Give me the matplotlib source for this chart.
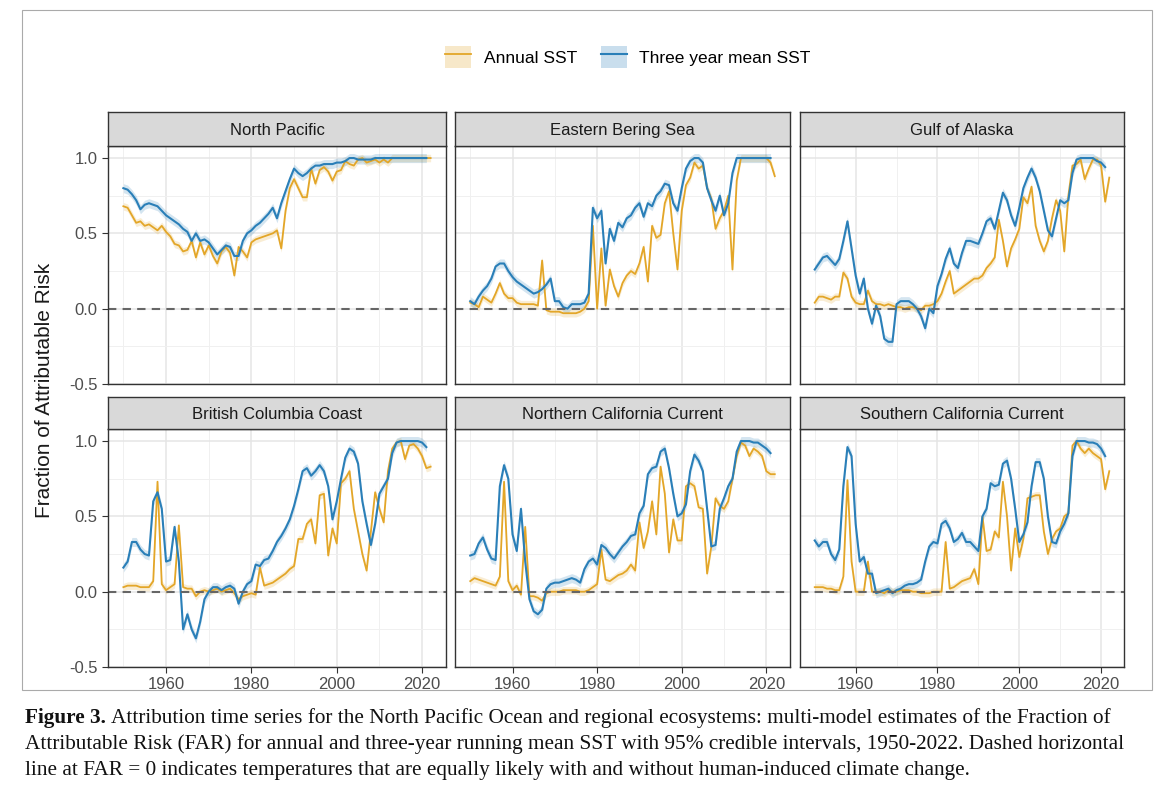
import matplotlib
matplotlib.use("Agg")
import matplotlib.pyplot as plt
from matplotlib.patches import Rectangle
from matplotlib.lines import Line2D
from matplotlib.patches import Patch
import numpy as np

plt.rcParams["font.family"] = ["Liberation Sans", "DejaVu Sans"]

years = np.arange(1950, 2023)

# annual SST FAR, 1950-2022 (one row per decade)
np_annual = [.68, .67, .62, .57, .58, .55, .56, .54, .52, .55,
             .51, .48, .43, .42, .38, .39, .45, .34, .44, .36,
             .42, .35, .30, .38, .41, .37, .22, .41, .38, .34,
             .44, .46, .47, .48, .49, .50, .52, .40, .65, .80,
             .86, .80, .74, .74, .93, .83, .92, .94, .91, .85,
             .91, .92, .98, .96, .95, .99, 1.0, .97, .98, .99,
             .97, .99, .97, 1, 1, 1, 1, 1, 1, 1,
             1, 1, 1]
ebs_annual = [.04, .03, .01, .08, .06, .04, .10, .17, .10, .07,
              .07, .04, .03, .03, .03, .03, .02, .32, -.01, -.02,
              -.02, -.02, -.03, -.03, -.03, -.03, -.02, .00, .05, .55,
              .00, .40, .02, .26, .15, .08, .17, .22, .25, .23,
              .30, .41, .18, .55, .47, .49, .70, .78, .50, .26,
              .65, .82, .87, .97, .93, .95, .80, .73, .53, .60,
              .65, .75, .26, .85, 1, 1, 1, 1, 1, 1,
              1, .97, .88]
goa_annual = [.04, .08, .08, .07, .06, .08, .08, .24, .20, .08,
              .04, .03, .03, .12, .05, .03, .03, .02, .03, .02,
              .01, .01, .00, .01, .01, .00, -.01, .02, .02, .03,
              .05, .10, .18, .25, .10, .12, .14, .16, .18, .20,
              .20, .22, .27, .30, .34, .59, .45, .28, .40, .46,
              .53, .74, .70, .81, .55, .45, .38, .45, .60, .72,
              .65, .38, .75, .95, .96, .99, .86, .93, .99, .99,
              .95, .71, .87]
bcc_annual = [.03, .04, .04, .04, .03, .03, .03, .07, .73, .05,
              .01, .03, .05, .44, .03, .02, .02, -.03, .00, .01,
              .00, .01, .02, .00, .01, .02, -.01, -.05, -.03, -.02,
              -.01, -.02, .16, .04, .05, .06, .08, .10, .12, .15,
              .17, .35, .35, .45, .48, .32, .64, .65, .24, .42,
              .32, .72, .75, .80, .55, .40, .25, .14, .40, .66,
              .55, .46, .80, .95, .99, 1.0, .88, .97, .98, .95,
              .90, .82, .83]
ncc_annual = [.07, .09, .08, .07, .06, .05, .04, .10, .73, .07,
              .01, .04, -.02, .43, -.03, -.03, -.04, -.06, -.01, .00,
              .00, .00, .01, .01, .01, .01, .00, .00, .01, .03,
              .05, .28, .08, .07, .09, .11, .12, .14, .18, .14,
              .46, .29, .40, .60, .38, .83, .65, .26, .48, .34,
              .34, .70, .72, .70, .56, .55, .12, .30, .62, .57,
              .55, .60, .75, .90, .99, .97, .90, .95, .93, .90,
              .80, .78, .78]
scc_annual = [.03, .03, .03, .02, .02, .01, .01, .10, .74, .20,
              .00, .00, .00, .20, .00, .00, .00, -.01, .01, .00,
              .00, .01, .01, .01, .00, .00, -.01, -.01, -.01, .00,
              .00, .00, .33, .02, .03, .05, .07, .08, .09, .15,
              .05, .50, .27, .28, .40, .36, .73, .50, .14, .42,
              .23, .35, .62, .63, .64, .64, .40, .25, .35, .40,
              .42, .50, .52, .97, 1.0, .95, .92, .95, .92, .90,
              .88, .68, .80]

# three year mean SST FAR, 1950-2021
np_3yr = [.80, .79, .76, .72, .66, .69, .70, .69, .68, .65,
          .62, .60, .58, .56, .53, .51, .45, .50, .45, .46,
          .44, .40, .36, .39, .42, .41, .35, .35, .45, .50,
          .52, .55, .57, .60, .63, .67, .60, .70, .78, .86,
          .93, .90, .88, .90, .93, .95, .95, .96, .96, .96,
          .97, .97, .98, 1.0, 1.0, .99, .99, .99, .99, 1.0,
          1, 1, 1, 1, 1, 1, 1, 1, 1, 1,
          1, 1]
ebs_3yr = [.05, .03, .08, .12, .15, .20, .28, .30, .30, .25,
           .21, .18, .16, .14, .12, .10, .11, .13, .16, .20,
           .05, .05, .01, .00, .03, .03, .03, .04, .10, .67,
           .60, .65, .30, .53, .45, .57, .54, .60, .62, .67,
           .70, .61, .70, .68, .75, .78, .83, .82, .70, .65,
           .80, .93, .98, 1.0, 1.0, .97, .80, .72, .65, .75,
           .62, .70, .90, 1, 1, 1, 1, 1, 1, 1,
           1, 1]
goa_3yr = [.26, .30, .34, .35, .32, .29, .33, .45, .58, .40,
           .22, .10, .20, .00, -.10, .02, -.05, -.20, -.22, -.22,
           .03, .05, .05, .05, .03, .00, -.05, -.13, .00, -.03,
           .15, .23, .33, .40, .30, .27, .37, .45, .45, .44,
           .43, .50, .58, .60, .53, .65, .77, .72, .62, .55,
           .67, .80, .87, .93, .87, .78, .65, .52, .48, .60,
           .72, .70, .72, .90, .99, 1, 1, 1, 1, .98,
           .97, .94]
bcc_3yr = [.16, .20, .33, .33, .28, .25, .24, .60, .66, .55,
           .20, .21, .43, .20, -.25, -.15, -.25, -.31, -.20, -.05,
           .00, .03, .03, .01, .03, .04, .02, -.08, .00, .05,
           .07, .18, .17, .21, .22, .27, .33, .37, .42, .48,
           .57, .68, .80, .82, .77, .80, .84, .80, .70, .48,
           .60, .75, .89, .95, .93, .85, .60, .45, .31, .45,
           .65, .70, .75, .92, .99, 1, 1, 1, 1, 1,
           .99, .96]
ncc_3yr = [.24, .25, .32, .36, .28, .22, .21, .70, .84, .75,
           .38, .27, .55, .20, -.05, -.13, -.15, -.12, .02, .05,
           .06, .06, .07, .08, .09, .08, .06, .15, .20, .22,
           .18, .31, .29, .25, .22, .26, .30, .33, .37, .38,
           .52, .57, .78, .82, .83, .93, .95, .82, .65, .50,
           .52, .58, .80, .91, .87, .80, .55, .30, .31, .55,
           .62, .70, .75, .93, 1.0, 1.0, 1.0, .99, .99, .97,
           .95, .92]
scc_3yr = [.34, .30, .33, .33, .25, .21, .28, .70, .96, .90,
           .45, .20, .23, .12, .12, -.01, .00, .01, .02, -.01,
           .01, .02, .04, .05, .05, .06, .08, .20, .30, .33,
           .32, .45, .47, .42, .33, .35, .39, .33, .33, .30,
           .27, .50, .55, .72, .70, .71, .85, .87, .75, .55,
           .33, .38, .46, .70, .86, .86, .75, .50, .33, .32,
           .40, .45, .52, .90, 1.0, 1.0, 1.0, .99, .99, .98,
           .95, .90]

regions = ["North Pacific", "Eastern Bering Sea", "Gulf of Alaska",
           "British Columbia Coast", "Northern California Current",
           "Southern California Current"]
annual = [np_annual, ebs_annual, goa_annual, bcc_annual, ncc_annual, scc_annual]
three_yr = [np_3yr, ebs_3yr, goa_3yr, bcc_3yr, ncc_3yr, scc_3yr]

ORANGE = "#E3A628"
BLUE = "#2A7FB8"

W, H = 1171, 800
fig = plt.figure(figsize=(W / 100, H / 100), dpi=100)

def px(x0, y0, x1, y1):
    return [x0 / W, 1 - y1 / H, (x1 - x0) / W, (y1 - y0) / H]

# outer frame of the figure box
fig.patches.append(Rectangle((22 / W, 1 - 690 / H), 1130 / W, 680 / H,
                             transform=fig.transFigure, fill=False,
                             edgecolor="#aaaaaa", lw=0.8))

cols = [(108, 446), (455, 790), (800, 1124)]
rows = [(112, 146, 384), (397, 429, 667)]

for i, name in enumerate(regions):
    r, c = divmod(i, 3)
    x0, x1 = cols[c]
    ys, y0, y1 = rows[r]
    ax = fig.add_axes(px(x0, y0, x1, y1))
    sx = fig.add_axes(px(x0, ys, x1, y0))
    sx.set_facecolor("#d9d9d9")
    sx.set_xticks([]); sx.set_yticks([])
    for s in sx.spines.values():
        s.set_color("#333333"); s.set_linewidth(1.0)
    sx.text(0.5, 0.45, name, ha="center", va="center", fontsize=12,
            color="#1a1a1a", transform=sx.transAxes)

    a = np.array(annual[i])
    b = np.array(three_yr[i])
    yb = years[:len(b)]
    ax.fill_between(years, a - 0.025, a + 0.025, color=ORANGE, alpha=0.2, lw=0)
    ax.fill_between(yb, b - 0.03, b + 0.03, color=BLUE, alpha=0.2, lw=0)
    ax.plot(years, a, color=ORANGE, lw=1.3)
    ax.plot(yb, b, color=BLUE, lw=1.5)
    ax.axhline(0, color="#666666", ls=(0, (4, 3)), lw=1.5)

    ax.set_xlim(1946.4, 2025.6)
    ax.set_ylim(-0.5, 1.08)
    ax.set_xticks([1960, 1980, 2000, 2020])
    ax.set_xticks(np.arange(1950, 2030, 10), minor=True)
    ax.set_yticks([-0.5, 0.0, 0.5, 1.0])
    ax.set_yticks([-0.25, 0.25, 0.75], minor=True)
    ax.grid(True, which="major", color="#e5e5e5", lw=1.1)
    ax.grid(True, which="minor", color="#f0f0f0", lw=0.7)
    ax.set_axisbelow(True)
    for s in ax.spines.values():
        s.set_color("#333333"); s.set_linewidth(1.0)
    ax.tick_params(which="minor", length=0)
    ax.tick_params(which="major", length=4, color="#333333", labelsize=12,
                   labelcolor="#4d4d4d")
    if c == 0:
        ax.set_yticklabels(["-0.5", "0.0", "0.5", "1.0"])
    else:
        ax.tick_params(axis="y", length=0, labelleft=False)
    if r == 0:
        ax.tick_params(axis="x", length=0, labelbottom=False)

fig.text(45 / W, 1 - 390 / H, "Fraction of Attributable Risk", rotation=90,
         ha="center", va="center", fontsize=15, color="#1a1a1a")

handles = [(Patch(facecolor=ORANGE, alpha=0.25, edgecolor="none"), Line2D([], [], color=ORANGE, lw=1.3)),
           (Patch(facecolor=BLUE, alpha=0.25, edgecolor="none"), Line2D([], [], color=BLUE, lw=1.5))]
fig.legend(handles, ["Annual SST", "Three year mean SST"], loc="center",
           bbox_to_anchor=(628 / W, 1 - 57 / H), ncol=2, frameon=False,
           fontsize=12.5, handlelength=1.5, handleheight=1.6,
           columnspacing=1.4, handletextpad=0.7)

# caption
cap_font = dict(family="Liberation Serif", fontsize=15.3, color="#111111")
lines = ["Attribution time series for the North Pacific Ocean and regional ecosystems: multi-model estimates of the Fraction of",
         "Attributable Risk (FAR) for annual and three-year running mean SST with 95% credible intervals, 1950-2022. Dashed horizontal",
         "line at FAR = 0 indicates temperatures that are equally likely with and without human-induced climate change."]
t = fig.text(25 / W, 1 - 718 / H, "Figure 3.", fontweight="bold", va="center", **cap_font)
fig.canvas.draw()
bb = t.get_window_extent()
fig.text((bb.x1 + 5) / W, 1 - 718 / H, lines[0], va="center", **cap_font)
fig.text(25 / W, 1 - 744 / H, lines[1], va="center", **cap_font)
fig.text(25 / W, 1 - 770 / H, lines[2], va="center", **cap_font)

fig.savefig("out.png", dpi=100)
